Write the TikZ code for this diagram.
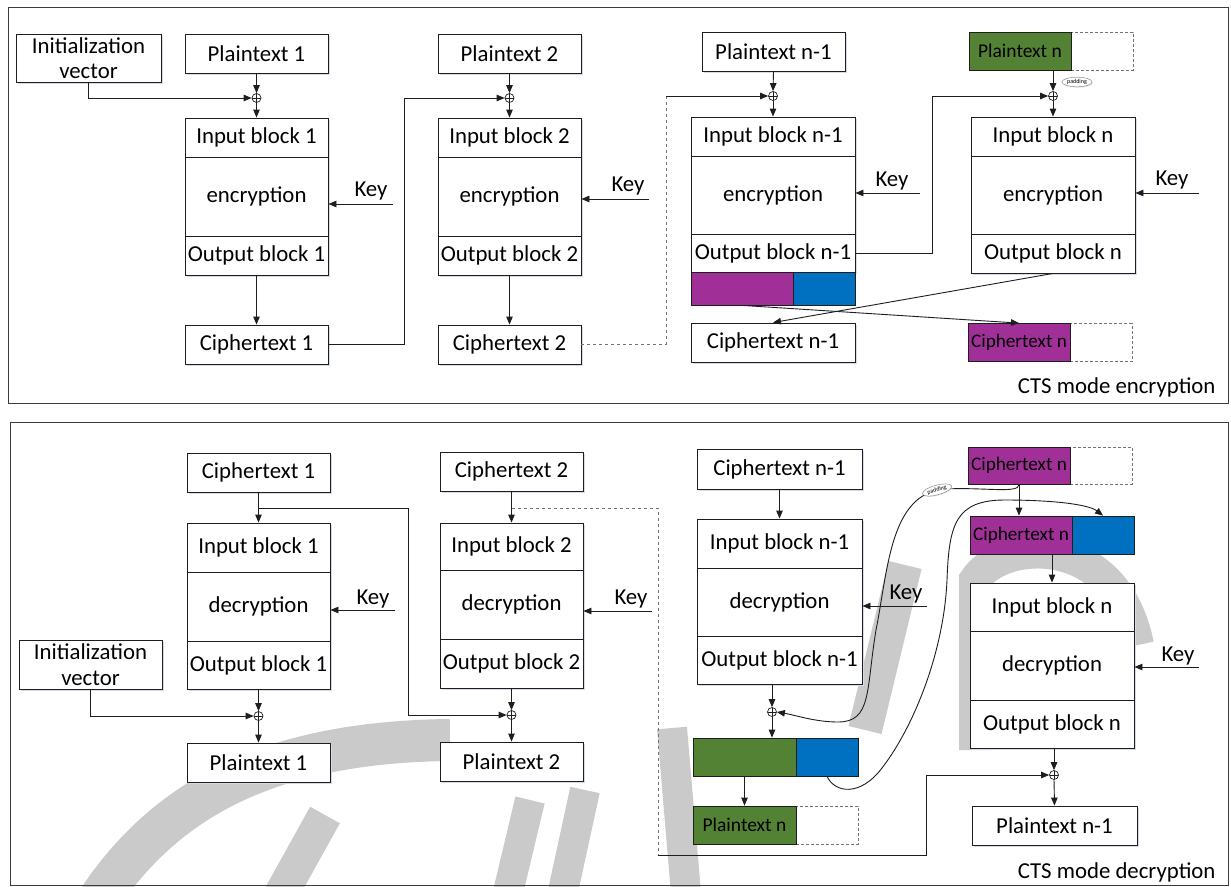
\documentclass[tikz,border=0pt]{standalone}
\usepackage{fontspec}
\setmainfont{Carlito}
\usetikzlibrary{arrows.meta,shadows,shapes.geometric}
\definecolor{cpurple}{RGB}{160,48,152}
\definecolor{cblue}{RGB}{0,112,192}
\definecolor{cgreen}{RGB}{84,130,53}
\definecolor{cline}{RGB}{30,30,30}
\definecolor{cframe}{RGB}{60,60,60}
\definecolor{cshadow}{RGB}{212,220,234}
\definecolor{cwm}{RGB}{202,202,202}
\begin{document}
\begin{tikzpicture}[x=1pt,y=-1pt,
  font=\fontsize{22.8}{25}\selectfont,
  bx/.style={draw=cline, line width=0.9pt, fill=white, inner sep=0pt, align=center,
    drop shadow={shadow xshift=1.5pt, shadow yshift=-1.5pt, fill=cshadow, opacity=1}},
  sb/.style={minimum width=143pt},
  wb/.style={minimum width=164pt},
  ht/.style={minimum height=#1},
  colp/.style={draw=cline, line width=0.8pt, fill=cpurple, inner sep=0pt, minimum width=102pt, font=\fontsize{19.2}{21}\selectfont},
  colg/.style={draw=cline, line width=0.8pt, fill=cgreen, inner sep=0pt, minimum width=102pt, font=\fontsize{19.5}{21}\selectfont},
  colb/.style={draw=cline, line width=0.8pt, fill=cblue, inner sep=0pt, minimum width=62pt},
  padw/.style={draw=black!55, densely dashed, line width=0.6pt, fill=white, inner sep=0pt, minimum width=62pt},
  arr/.style={draw=cline, line width=0.9pt, -{Triangle[length=8pt,width=6.5pt]}},
  ln/.style={draw=cline, line width=0.9pt},
  dsh/.style={draw=black!55, line width=0.9pt, dashed},
  xo/.style={circle, draw=cline, line width=0.7pt, minimum size=9pt, inner sep=0pt, fill=white,
    path picture={\draw[line width=0.6pt] (path picture bounding box.north) -- (path picture bounding box.south)
      (path picture bounding box.west) -- (path picture bounding box.east);}},
  padl/.style={ellipse, draw=black!45, line width=0.5pt, fill=white, inner sep=0.8pt,
    font=\fontsize{6}{7}\selectfont, drop shadow={shadow xshift=0.8pt, shadow yshift=-0.8pt, fill=black!20}},
  frame/.style={draw=cframe, line width=1pt},
  wm/.style={draw=cwm, line cap=butt}
]
\useasboundingbox (0,0) rectangle (1231,886);
\fill[white] (0,0) rectangle (1231,886);

% ---------- watermark ----------
\draw[wm, line width=42pt] (95,905) .. controls (160,805) and (260,742) .. (450,740);
\draw[wm, line width=34pt] (275,905) -- (325,815);
\draw[wm, line width=30pt] (505,905) -- (530,800);
\draw[wm, line width=30pt] (560,905) -- (585,790);
\draw[wm, line width=30pt] (687,905) -- (672,728);
\draw[wm, line width=34pt] (865,730) -- (905,565);
\draw[wm, line width=32pt] (975,750) -- (975,580) .. controls (1000,540) and (1115,530) .. (1138,645);

% ---------- frames ----------
\draw[frame] (8,7) rectangle (1228,403);
\draw[frame] (10,422) rectangle (1228,885);

% ================= ENCRYPTION =================
\node[bx, minimum width=145pt, ht=48pt] (IV) at (88.5,58) {Initialization\\vector};
% column 1
\node[bx, sb, ht=39pt] (P1) at (256.5,53.5) {Plaintext 1};
\node[xo] (x1) at (256.5,98) {};
\node[bx, sb, ht=39pt] (IB1) at (256.5,137.5) {Input block 1};
\node[bx, sb, ht=79pt] (EN1) at (256.5,196.5) {encryption};
\node[bx, sb, ht=39pt] (OB1) at (256.5,255.5) {Output block 1};
\node[bx, sb, ht=39pt] (C1) at (256.5,344.5) {Ciphertext 1};
% column 2
\node[bx, sb, ht=39pt] (P2) at (509.5,53.5) {Plaintext 2};
\node[xo] (x2) at (509.5,98) {};
\node[bx, sb, ht=39pt] (IB2) at (509.5,137.5) {Input block 2};
\node[bx, sb, ht=79pt] (EN2) at (509.5,196.5) {encryption};
\node[bx, sb, ht=39pt] (OB2) at (509.5,255.5) {Output block 2};
\node[bx, sb, ht=39pt] (C2) at (509.5,344.5) {Ciphertext 2};
% column 3
\node[bx, sb, ht=39pt] (P3) at (773.5,51.5) {Plaintext n-1};
\node[xo] (x3) at (773,96) {};
\node[bx, wb, ht=39pt] (IB3) at (773,136.5) {Input block n-1};
\node[bx, wb, ht=78pt] (EN3) at (773,195) {encryption};
\node[bx, wb, ht=38pt] (OB3) at (773,253) {Output block n-1};
\node[colp, ht=33pt] (BP3) at (742,288.5) {};
\node[colb, ht=33pt] (BB3) at (824,288.5) {};
\node[bx, wb, ht=39pt] (C3) at (773,342.5) {Ciphertext n-1};
% column 4
\node[padw, ht=38pt] (PnW) at (1102,51) {};
\node[colg, ht=38pt] (PnG) at (1020,51) {Plaintext n};
\node[xo] (x4) at (1053,96) {};
\node[bx, wb, ht=39pt] (IB4) at (1053,136.5) {Input block n};
\node[bx, wb, ht=78pt] (EN4) at (1053,195) {encryption};
\node[bx, wb, ht=39pt] (OB4) at (1053,253.5) {Output block n};
\node[padw, ht=38pt] (CnW) at (1101,342.5) {};
\node[colp, ht=38pt] (CnP) at (1019,342.5) {Ciphertext n};

% keys
\coordinate (k1) at (393,204);
\coordinate (k2) at (649,199);
\coordinate (k3) at (920,193);
\coordinate (k4) at (1199,193);
\node (k1t) at (371,191.5) {Key};
\node (k2t) at (628,186) {Key};
\node (k3t) at (892,181) {Key};
\node (k4t) at (1172,180) {Key};
\draw[arr] (k1) -- (k1 -| EN1.east);
\draw[arr] (k2) -- (k2 -| EN2.east);
\draw[arr] (k3) -- (k3 -| EN3.east);
\draw[arr] (k4) -- (k4 -| EN4.east);

% flow col 1
\draw[arr] (IV.south) |- (x1.west);
\draw[arr] (P1.south) -- (x1.north);
\draw[arr] (x1.south) -- (IB1.north);
\draw[arr] (OB1.south) -- (C1.north);
\draw[arr] (C1.east) -- ++(76,0) |- (x2.west);
% col 2
\draw[arr] (P2.south) -- (x2.north);
\draw[arr] (x2.south) -- (IB2.north);
\draw[arr] (OB2.south) -- (C2.north);
\coordinate (d1) at (666,96);
\draw[dsh] (C2.east) -- (C2.east -| d1) -- (d1);
\draw[arr] (d1) -- (x3.west);
% col 3
\draw[arr] (P3.south) -- (x3.north);
\draw[arr] (x3.south) -- (IB3.north);
\draw[arr] (OB3.east) -- ++(77,0) |- (x4.west);
% col 4
\draw[arr] (x4 |- PnG.south) -- (x4.north);
\draw[arr] (x4.south) -- (IB4.north);
\node[padl] (pad1) at (1077,82) {padding};
% crossing
\draw[arr] (OB4.south) -- (C3.north);
\draw[arr] (BP3.south) -- (CnP.north);

\node[anchor=east] (enc) at (1219,387) {CTS mode encryption};

% ================= DECRYPTION =================
\node[bx, sb, ht=49pt] (IVb) at (90.5,664.5) {Initialization\\[1pt]vector};
% col 1
\node[bx, sb, ht=39pt] (Cb1) at (258.5,472.5) {Ciphertext 1};
\node[bx, sb, ht=49pt] (IBb1) at (258.5,547.5) {Input block 1};
\node[bx, sb, ht=69pt] (DEb1) at (258.5,606.5) {decryption};
\node[bx, sb, ht=48pt] (OBb1) at (258.5,665) {Output block 1};
\node[xo] (xb1) at (258.5,716) {};
\node[bx, sb, ht=39pt] (Pb1) at (258.5,762.5) {Plaintext 1};
% col 2
\node[bx, sb, ht=39pt] (Cb2) at (511.5,471.5) {Ciphertext 2};
\node[bx, sb, ht=47pt] (IBb2) at (511.5,546.5) {Input block 2};
\node[bx, sb, ht=69pt] (DEb2) at (511.5,604.5) {decryption};
\node[bx, sb, ht=49pt] (OBb2) at (511.5,663.5) {Output block 2};
\node[xo] (xb2) at (511.5,715) {};
\node[bx, sb, ht=39pt] (Pb2) at (511.5,761.5) {Plaintext 2};
% col 3
\node[bx, minimum width=165pt, ht=40pt] (Cb3) at (779.5,469) {Ciphertext n-1};
\node[bx, minimum width=165pt, ht=49pt] (IBb3) at (779.5,543.5) {Input block n-1};
\node[bx, minimum width=165pt, ht=68pt] (DEb3) at (779.5,602) {decryption};
\node[bx, minimum width=165pt, ht=48pt] (OBb3) at (779.5,660) {Output block n-1};
\node[xo] (xb3) at (772,712) {};
\node[colg, minimum width=103pt, ht=38pt] (GB) at (744.5,757) {};
\node[colb, ht=38pt] (BBb) at (827,757) {};
\node[padw, ht=38pt] (PnbW) at (827,825) {};
\node[colg, minimum width=103pt, ht=38pt] (PnbG) at (744.5,825) {Plaintext n};
% col 4
\node[padw, ht=37pt] (CntW) at (1101,465.5) {};
\node[colp, ht=37pt] (CntP) at (1019,465.5) {Ciphertext n};
\node[colp, ht=38pt] (Cn2P) at (1021,535) {Ciphertext n};
\node[colb, ht=38pt] (Cn2B) at (1103,535) {};
\node[bx, wb, ht=48pt] (IBb4) at (1052,607) {Input block n};
\node[bx, wb, ht=69pt] (DEb4) at (1052,665.5) {decryption};
\node[bx, wb, ht=48pt] (OBb4) at (1052,724) {Output block n};
\node[xo] (xb4) at (1054,775) {};
\node[bx, minimum width=165pt, ht=39pt] (Pn1b) at (1054.5,825.5) {Plaintext n-1};

% keys
\coordinate (kb1) at (395,610);
\coordinate (kb2) at (652,611);
\coordinate (kb3) at (927,606);
\coordinate (kb4) at (1199,667);
\node (kb1t) at (373,599) {Key};
\node (kb2t) at (631,599) {Key};
\node (kb3t) at (906,594) {Key};
\node (kb4t) at (1178,656) {Key};
\draw[arr] (kb1) -- (kb1 -| DEb1.east);
\draw[arr] (kb2) -- (kb2 -| DEb2.east);
\draw[arr] (kb3) -- (kb3 -| DEb3.east);
\draw[arr] (kb4) -- (kb4 -| DEb4.east);

% col 1 flow
\draw[arr] (Cb1.south) -- (IBb1.north);
\coordinate (br1) at (258.5,508);
\draw[arr] (br1) -- ++(149.5,0) |- (xb2.west);
\draw[arr] (OBb1.south) -- (xb1.north);
\draw[arr] (IVb.south) |- (xb1.west);
\draw[arr] (xb1.south) -- (Pb1.north);
% col 2 flow
\draw[arr] (Cb2.south) -- (IBb2.north);
\coordinate (br2) at (511.5,508);
\coordinate (dc) at (658,855);
\draw[dsh] (br2) -- (br2 -| dc) -- (dc);
\draw[arr] (dc) -- ++(268,0) |- (xb4.west);
\draw[arr] (OBb2.south) -- (xb2.north);
\draw[arr] (xb2.south) -- (Pb2.north);
% col 3 flow
\draw[arr] (Cb3.south) -- (IBb3.north);
\draw[arr] (OBb3.south -| xb3) -- (xb3.north);
\draw[arr] (xb3.south) -- (xb3 |- GB.north);
\draw[arr] (GB.south) -- (PnbG.north);
% col 4 flow
\draw[arr] (CntP.south) -- (CntP.south |- Cn2P.north);
\draw[arr] (IBb4.north |- Cn2P.south) -- (IBb4.north);
\draw[arr] (OBb4.south -| xb4) -- (xb4.north);
\draw[arr] (xb4.south) -- (Pn1b.north);

% curves
\draw[arr] (CntP.south) .. controls (1019,494) and (985,487) .. (945,489)
   .. controls (890,493) and (888,570) .. (876,630)
   .. controls (866,690) and (872,722) .. (838,722)
   .. controls (815,722) and (795,715) .. (xb3.east);
\draw[arr] (BBb.south) .. controls (835,793) and (860,797) .. (882,768)
   .. controls (915,725) and (944,650) .. (947,580)
   .. controls (949,525) and (955,500) .. (1005,500)
   .. controls (1050,500) and (1088,504) .. (Cn2B.north);
\node[padl, rotate=15] (pad2) at (937,490) {padding};

\node[anchor=east] (dec) at (1219,872.5) {CTS mode decryption};
\end{tikzpicture}
\end{document}
